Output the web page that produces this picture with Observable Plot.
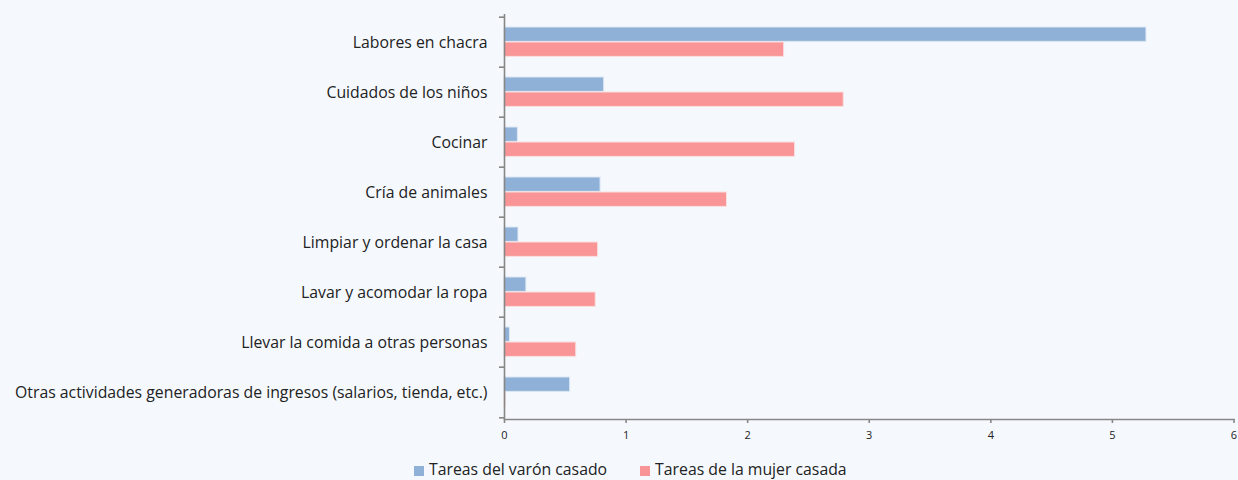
<!DOCTYPE html>
<html>
<head>
<meta charset="utf-8">
<script src="https://cdn.jsdelivr.net/npm/d3@7"></script>
<script src="https://cdn.jsdelivr.net/npm/@observablehq/plot@0.6"></script>
<style>
  html, body { margin: 0; padding: 0; background: #f5f9fe; width: 1238px; height: 480px; overflow: hidden; }
  #wrap { position: relative; width: 1238px; height: 480px; font-family: "Open Sans", sans-serif; }
  #legend { position: absolute; left: 414px; top: 459px; font-size: 15.8px; line-height: 20px; color: #222; display: flex; align-items: center; white-space: nowrap; }
  #legend .sw { display: inline-block; width: 10px; height: 10px; margin-right: 5px; margin-top: 4px; }
  #legend .item { display: flex; align-items: center; margin-right: 33px; }
</style>
</head>
<body>
<div id="wrap">
  <div id="chart"></div>
  <div id="legend"></div>
</div>
<script>
const categories = [
  "Labores en chacra",
  "Cuidados de los niños",
  "Cocinar",
  "Cría de animales",
  "Limpiar y ordenar la casa",
  "Lavar y acomodar la ropa",
  "Llevar la comida a otras personas",
  "Otras actividades generadoras de ingresos (salarios, tienda, etc.)"
];
const varon = [5.28, 0.82, 0.11, 0.79, 0.115, 0.18, 0.045, 0.54];
const mujer = [2.30, 2.79, 2.39, 1.83, 0.77, 0.75, 0.59, 0.01];
const seriesNames = ["Tareas del varón casado", "Tareas de la mujer casada"];
const xTicks = [0, 1, 2, 3, 4, 5, 6];

const colorV = "#8fb1d7";
const colorM = "#f99596";
const axisColor = "#878787";

const rows = categories.map((c, i) => ({cat: c, varon: varon[i], mujer: mujer[i]}));

const H = 456, plotTop = 14, bottomY = 419;
const step = (bottomY - plotTop) / categories.length;

const chart = Plot.plot({
  width: 1238,
  height: H,
  marginLeft: 504,
  marginRight: 4.5,
  marginTop: plotTop,
  marginBottom: H - bottomY,
  style: {background: "transparent", fontFamily: "'Open Sans', sans-serif", color: "#222"},
  x: {domain: [0, 6]},
  y: {domain: categories, padding: 0},
  marks: [
    Plot.barX(rows, {x: "varon", y: "cat", fill: colorV, stroke: "#dde8f4", strokeWidth: 1, insetTop: 10, insetBottom: step - 25}),
    Plot.barX(rows, {x: "mujer", y: "cat", fill: colorM, stroke: "#fbdede", strokeWidth: 1, insetTop: 25, insetBottom: step - 40}),
    Plot.ruleX([0], {stroke: axisColor, strokeWidth: 1.6}),
    Plot.frame({anchor: "bottom", stroke: axisColor, strokeWidth: 1.6}),
    Plot.axisX(xTicks, {tickSize: 4, tickPadding: 8, fontSize: 11, stroke: axisColor, strokeWidth: 1.6, label: null, color: "#222", tickFormat: d3.format("d")}),
    Plot.axisY({tickSize: 0, tickPadding: 17, fontSize: 15.8, label: null, color: "#222"}),
    Plot.axisY(categories, {tickSize: 5, dy: -step / 2, stroke: axisColor, strokeWidth: 1.6, tickFormat: () => "", label: null}),
    Plot.axisY([categories[categories.length - 1]], {tickSize: 5, dy: step / 2, stroke: axisColor, strokeWidth: 1.6, tickFormat: () => "", label: null})
  ]
});
document.getElementById("chart").appendChild(chart);

const legend = document.getElementById("legend");
[[seriesNames[0], colorV], [seriesNames[1], colorM]].forEach(([name, col]) => {
  const item = document.createElement("span");
  item.className = "item";
  const sw = document.createElement("span");
  sw.className = "sw";
  sw.style.background = col;
  item.appendChild(sw);
  item.appendChild(document.createTextNode(name));
  legend.appendChild(item);
});
</script>
</body>
</html>
